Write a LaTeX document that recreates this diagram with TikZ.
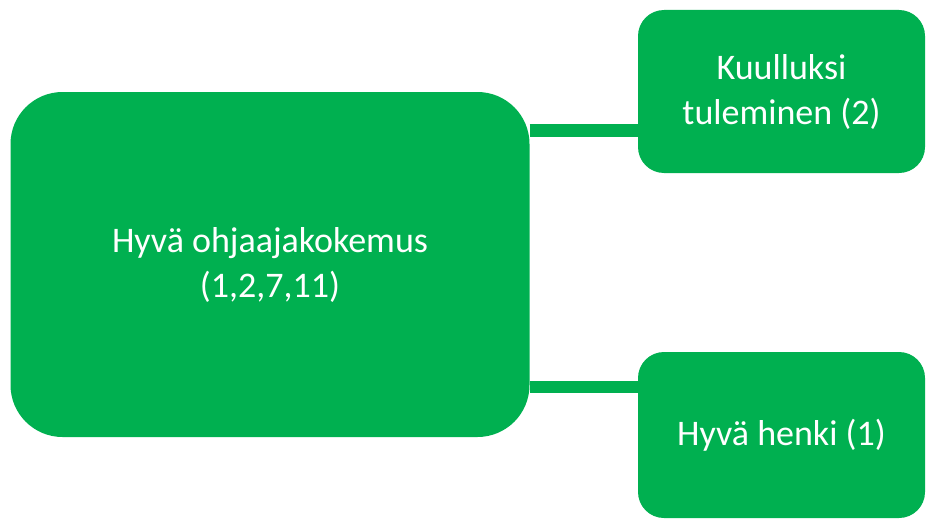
\documentclass[tikz,border=0pt]{standalone}
\usepackage{fontspec}
\setmainfont{Carlito}
\definecolor{grn}{HTML}{00B050}
\begin{document}
\begin{tikzpicture}[x=1pt,y=-1pt,
  box/.style={fill=grn,draw=none,text=white,align=center,inner sep=0pt,
    font=\fontsize{36}{45}\selectfont},
  conn/.style={draw=grn,line width=12.5pt}]
\useasboundingbox (0,0) rectangle (926,519);
\node[box,minimum width=519pt,minimum height=345pt,rounded corners=52pt] (main) at (270,264.5) {Hyvä ohjaajakokemus\\(1,2,7,11)};
\node[box,minimum width=287pt,minimum height=163pt,rounded corners=26pt] (top) at (781.5,91.5) {Kuulluksi\\tuleminen (2)};
\node[box,minimum width=287pt,minimum height=166pt,rounded corners=26pt] (bot) at (781.5,435) {Hyvä henki (1)};
\coordinate (t1) at ([yshift=-39pt]top.west);
\coordinate (b1) at ([yshift=48pt]bot.west);
\draw[conn] (t1 -| main.east) -- (t1);
\draw[conn] (b1 -| main.east) -- (b1);
\end{tikzpicture}
\end{document}
